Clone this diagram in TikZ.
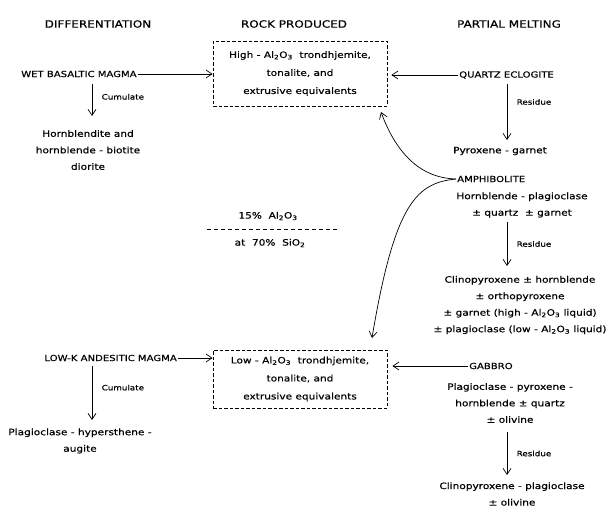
\documentclass[tikz,border=0pt]{standalone}
\usepackage{fontspec}
\setmainfont{DejaVu Sans}[FakeStretch=1.2,FakeBold=0.5]
\usetikzlibrary{arrows.meta}

\newcommand{\alo}{Al\textsubscript{2}O\textsubscript{3}}

\tikzset{
  arr/.style={-{Straight Barb[length=6pt,width=8pt]},line width=0.7pt},
  rockbox/.style={draw,dashed,dash pattern=on 3.5pt off 2pt,line width=0.8pt,
    minimum width=174pt,align=center,inner sep=0pt,
    font=\fontsize{8.8}{18}\selectfont},
  head/.style={font=\fontsize{10}{12}\selectfont},
  magma/.style={font=\fontsize{8.4}{10}\selectfont,inner sep=1pt},
  mineral/.style={font=\fontsize{8.8}{16.5}\selectfont,align=center},
  tag/.style={font=\fontsize{7.3}{8}\selectfont},
}

\begin{document}
\begin{tikzpicture}[x=1pt,y=-1pt]
  \useasboundingbox (0,0) rectangle (615,508);

  % column heads
  \node[head] (hdiff) at (98,24)  {DIFFERENTIATION};
  \node[head] (hrock) at (294,24) {ROCK PRODUCED};
  \node[head] (hmelt) at (509,24) {PARTIAL MELTING};

  % rocks produced
  \node[rockbox,minimum height=65pt] (hibox) at (300,73.5)
    {High - \alo\ \ trondhjemite,\\ tonalite, and\\ extrusive equivalents};
  \node[rockbox,minimum height=58pt] (lobox) at (300,379)
    {Low - \alo\ \ trondhjemite,\\ tonalite, and\\ extrusive equivalents};

  % differentiation
  \node[magma,anchor=west] (wet)  at (20,74)  {WET BASALTIC MAGMA};
  \node[magma,anchor=east] (lowk) at (178,358) {LOW-K ANDESITIC MAGMA};
  \node[mineral] (hbl)  at (88,150) {Hornblendite and\\ hornblende - biotite\\ diorite};
  \node[mineral] (plhy) at (80,441) {Plagioclase - hypersthene -\\ augite};

  % partial melting
  \node[magma,anchor=west] (qe)   at (458,75)  {QUARTZ ECLOGITE};
  \node[magma,anchor=west] (amph) at (456,179) {AMPHIBOLITE};
  \node[magma,anchor=west] (gab)  at (468,366) {GABBRO};
  \node[mineral] (pxgt)   at (500,151) {Pyroxene - garnet};
  \node[mineral] (amphmn) at (522,205) {Hornblende - plagioclase\\ ± quartz \ ± garnet};
  \node[mineral] (cpxa)   at (520,305) {Clinopyroxene ± hornblende\\ ± orthopyroxene\\
    ± garnet (high - \alo\ liquid)\\ ± plagioclase (low - \alo\ liquid)};
  \node[mineral] (gabmn)  at (510,403) {Plagioclase - pyroxene -\\ hornblende ± quartz\\ ± olivine};
  \node[mineral] (cpxb)   at (512,494) {Clinopyroxene - plagioclase\\ ± olivine};

  % alumina ratio
  \node[mineral] (pct) at (268,216) {15\% \ \alo};
  \node[mineral] (sio) at (270,243) {at \ 70\% \ SiO\textsubscript{2}};
  \coordinate (ratioL) at (207,229);
  \coordinate (ratioR) at (339,229);
  \draw[dashed,dash pattern=on 4pt off 3pt,line width=0.8pt] (ratioL) -- (ratioR);

  % arrow ends
  \coordinate (cumAtop) at (92,84);   \coordinate (cumAbot) at (92,116);
  \coordinate (cumBtop) at (92,366);  \coordinate (cumBbot) at (92,420);
  \coordinate (resAtop) at (507,84);  \coordinate (resAbot) at (507,140);
  \coordinate (resBtop) at (507,222); \coordinate (resBbot) at (507,266);
  \coordinate (resCtop) at (507,432); \coordinate (resCbot) at (507,475);
  \coordinate (hitip) at (381,112);
  \coordinate (lotip) at (372,338);

  \begin{scope}[arr]
    \draw (wet.east) -- (wet.east -| hibox.west);
    \draw (lowk.east) -- (lowk.east -| lobox.west);
    \draw[shorten >=4pt] (qe.west) -- (qe.west -| hibox.east);
    \draw[shorten >=5pt] (gab.west) -- (gab.west -| lobox.east);

    \draw (cumAtop) -- node[tag,right=6pt,pos=0.4] {Cumulate} (cumAbot);
    \draw (cumBtop) -- node[tag,right=6pt,pos=0.4] {Cumulate} (cumBbot);
    \draw (resAtop) -- node[tag,right=6pt,pos=0.32] {Residue} (resAbot);
    \draw (resBtop) -- node[tag,right=6pt,pos=0.5] {Residue} (resBbot);
    \draw (resCtop) -- node[tag,right=6pt,pos=0.5] {Residue} (resCbot);

    \draw (amph.west) .. controls (418,178) and (395,150) .. (hitip);
    \draw (amph.west) .. controls (418,183) and (395,200) .. (lotip);
  \end{scope}

\end{tikzpicture}
\end{document}
